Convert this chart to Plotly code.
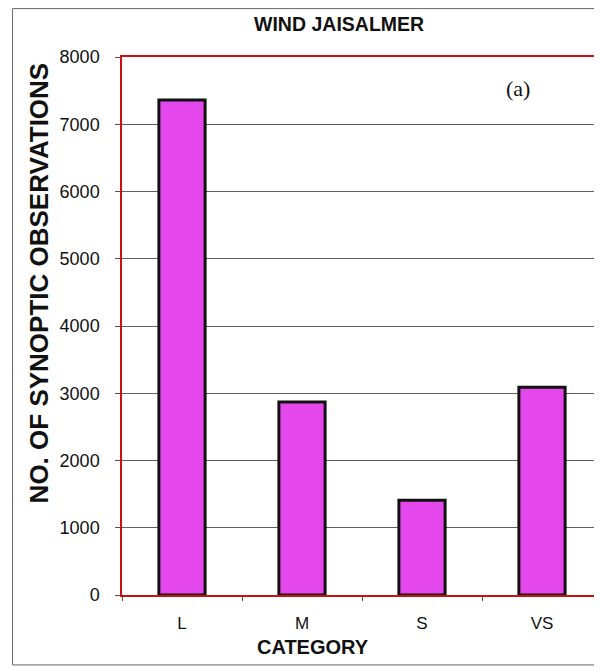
import plotly.graph_objects as go

categories = ["L", "M", "S", "VS"]
observations = [7360, 2870, 1410, 3090]
y_ticks = [0, 1000, 2000, 3000, 4000, 5000, 6000, 7000, 8000]

fig = go.Figure()
fig.add_trace(go.Bar(
    x=categories, y=observations,
    marker=dict(color="#E448EC", line=dict(color="#111111", width=3)),
    width=0.385,
))

fig.update_layout(
    width=602, height=667,
    margin=dict(l=114, r=6, t=49, b=80),
    paper_bgcolor="white", plot_bgcolor="white",
    showlegend=False,
    font=dict(family="Liberation Sans, Arial, sans-serif", color="#111111"),
    title=dict(text="<b>WIND JAISALMER</b>", x=0.55, xanchor="center",
               y=0.976, yanchor="middle", font=dict(size=19.5)),
)
fig.update_xaxes(
    type="category",
    showline=True, linecolor="#CC1010", linewidth=1.5, mirror=True,
    ticks="outside", tickson="boundaries", ticklen=4, tickcolor="#555555",
    tickfont=dict(size=17), ticklabelstandoff=12,
)
fig.update_yaxes(
    range=[0, 8000], tickvals=y_ticks,
    showline=True, linecolor="#CC1010", linewidth=1.5, mirror=True,
    showgrid=True, gridcolor="#606060", gridwidth=1,
    ticks="outside", ticklen=5, tickcolor="#555555",
    tickfont=dict(size=18), ticklabelstandoff=12,
    zeroline=False,
)
fig.add_annotation(text="<b>NO. OF SYNOPTIC OBSERVATIONS</b>", xref="paper", yref="paper",
                   x=-0.172, y=0.58, textangle=-90, showarrow=False,
                   xanchor="center", yanchor="middle", font=dict(size=26))
fig.add_annotation(text="<b>CATEGORY</b>", xref="paper", yref="paper",
                   x=0.398, y=-0.0967, showarrow=False,
                   xanchor="center", yanchor="middle", font=dict(size=20))
fig.add_annotation(text="(a)", xref="paper", yref="paper", x=0.826, y=0.942,
                   showarrow=False, xanchor="center", yanchor="middle",
                   font=dict(family="Liberation Serif, Times New Roman, serif", size=22))
fig.add_shape(type="rect", xref="paper", yref="paper",
              x0=-0.228, x1=1.02, y0=-0.130, y1=1.090,
              line=dict(color="#666666", width=1))

fig.write_html("out.html")
